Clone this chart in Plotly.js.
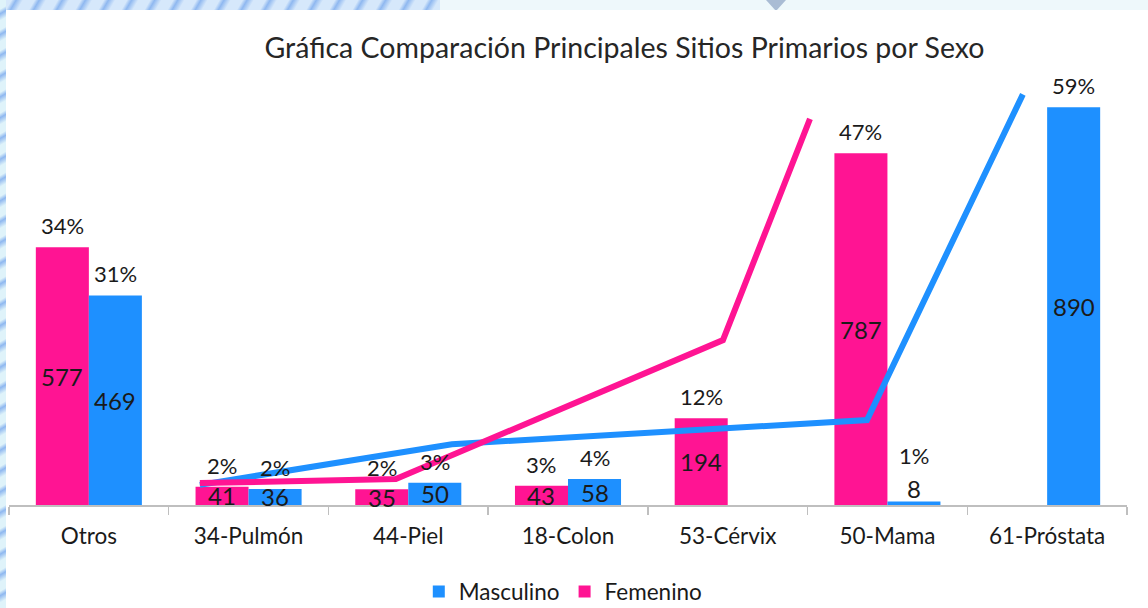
<!DOCTYPE html>
<html>
<head>
<meta charset="utf-8">
<script src="https://cdn.plot.ly/plotly-3.0.1.min.js"></script>
<style>
  html, body { margin: 0; padding: 0; width: 1148px; height: 608px; overflow: hidden; }
  body {
    position: relative;
    background: #eef8fb;
  }
  #stripTop {
    position: absolute; left: 0; top: 0; width: 440px; height: 10px;
    background: repeating-linear-gradient(120deg, #d6e8fb 0px, #d6e8fb 10px, #8fb8f0 14px, #d6e8fb 20px);
  }
  #stripLeft {
    position: absolute; left: 0; top: 0; width: 6px; height: 608px;
    background: repeating-linear-gradient(150deg, #dff3fa 0px, #dff3fa 8px, #8fb8f0 12px, #dff3fa 18px);
  }
  #tri {
    position: absolute; left: 766px; top: 0; width: 0; height: 0;
    border-left: 10px solid transparent; border-right: 10px solid transparent;
    border-top: 11px solid #a9bcd4;
  }
  #chart { position: absolute; left: 6px; top: 10px; width: 1142px; height: 598px; background: #ffffff; }
</style>
</head>
<body>
<div id="stripTop"></div>
<div id="stripLeft"></div>
<div id="tri"></div>
<div id="chart"></div>
<script>
// ---- data ----
const categories = ['Otros', '34-Pulmón', '44-Piel', '18-Colon', '53-Cérvix', '50-Mama', '61-Próstata'];
const femValues  = [577, 41, 35, 43, 194, 787, null];
const mascValues = [469, 36, 50, 58, null, 8, 890];
const femPct  = ['34%', '2%', '2%', '3%', '12%', '47%', ''];
const mascPct = ['31%', '2%', '3%', '4%', '', '1%', '59%'];
// trend lines (category-index x, value-scale y)
const femLineX  = [0.695, 1.922, 3.970, 4.515];
const femLineY  = [49, 58, 369, 864];
const mascLineX = [0.695, 2.273, 4.872, 5.848];
const mascLineY = [45, 136, 190, 919];

// ---- styles ----
const PINK = '#ff1493';
const BLUE = '#1e90ff';
const FONT = 'Lato, "Open Sans", sans-serif';
const TXT = '#1a1a1a';
const bargap = 0.336;
const off = (1 - bargap) / 4;

const idx = categories.map((_, i) => i);

const traces = [
  { type: 'bar', name: 'Femenino', x: idx, y: femValues, marker: { color: PINK }, hoverinfo: 'y' },
  { type: 'bar', name: 'Masculino', x: idx, y: mascValues, marker: { color: BLUE }, hoverinfo: 'y' },
  { type: 'scatter', mode: 'lines', x: mascLineX, y: mascLineY, line: { color: BLUE, width: 6 }, showlegend: false, hoverinfo: 'skip' },
  { type: 'scatter', mode: 'lines', x: femLineX, y: femLineY, line: { color: PINK, width: 6 }, showlegend: false, hoverinfo: 'skip' }
];

const annotations = [];
function addLabels(values, pcts, dx) {
  values.forEach((v, i) => {
    if (v === null || v === undefined) return;
    const small = v < 20;
    annotations.push({
      x: i + dx, y: small ? v : v / 2, xref: 'x', yref: 'y',
      yanchor: small ? 'bottom' : 'middle', yshift: small ? -4 : 0,
      text: String(v), showarrow: false,
      font: { family: FONT, size: 24, color: TXT }
    });
    if (pcts[i]) {
      annotations.push({
        x: i + dx, y: v, xref: 'x', yref: 'y', yanchor: 'bottom',
        yshift: small ? 30 : 6,
        text: pcts[i], showarrow: false,
        font: { family: FONT, size: 22, color: TXT }
      });
    }
  });
}
addLabels(femValues, femPct, -off);
addLabels(mascValues, mascPct, off);

const layout = {
  width: 1142, height: 598,
  margin: { l: 3, r: 21, t: 75, b: 103 },
  paper_bgcolor: '#ffffff',
  plot_bgcolor: '#ffffff',
  font: { family: FONT, color: TXT },
  title: {
    text: 'Gráfica Comparación Principales Sitios Primarios por Sexo',
    font: { family: FONT, size: 28.5, color: '#262626' },
    x: 0.5416, xanchor: 'center', xref: 'container',
    y: 0.936, yanchor: 'middle', yref: 'container'
  },
  barmode: 'group',
  bargap: bargap,
  bargroupgap: 0,
  xaxis: {
    range: [-0.5, 6.5],
    tickvals: idx,
    ticktext: categories,
    ticks: '',
    showgrid: false,
    zeroline: false,
    showline: true,
    linecolor: '#bfbfbf',
    linewidth: 1.5,
    tickfont: { family: FONT, size: 22.5, color: TXT },
    ticklabelstandoff: 10,
    minor: {
      tickvals: [-0.5, 0.5, 1.5, 2.5, 3.5, 4.5, 5.5, 6.5],
      ticks: 'outside', ticklen: 8, tickcolor: '#bfbfbf', tickwidth: 1.5, showgrid: false
    },
    fixedrange: true
  },
  yaxis: {
    range: [0, 940],
    visible: false,
    showgrid: false,
    zeroline: false,
    fixedrange: true
  },
  legend: {
    orientation: 'h',
    traceorder: 'reversed',
    x: 0.488, xanchor: 'center', xref: 'container',
    y: 0.027, yanchor: 'middle', yref: 'container',
    font: { family: FONT, size: 22.5, color: TXT },
    itemwidth: 30
  },
  annotations: annotations,
  showlegend: true
};

Plotly.newPlot('chart', traces, layout, { displayModeBar: false, staticPlot: true });
</script>
</body>
</html>
